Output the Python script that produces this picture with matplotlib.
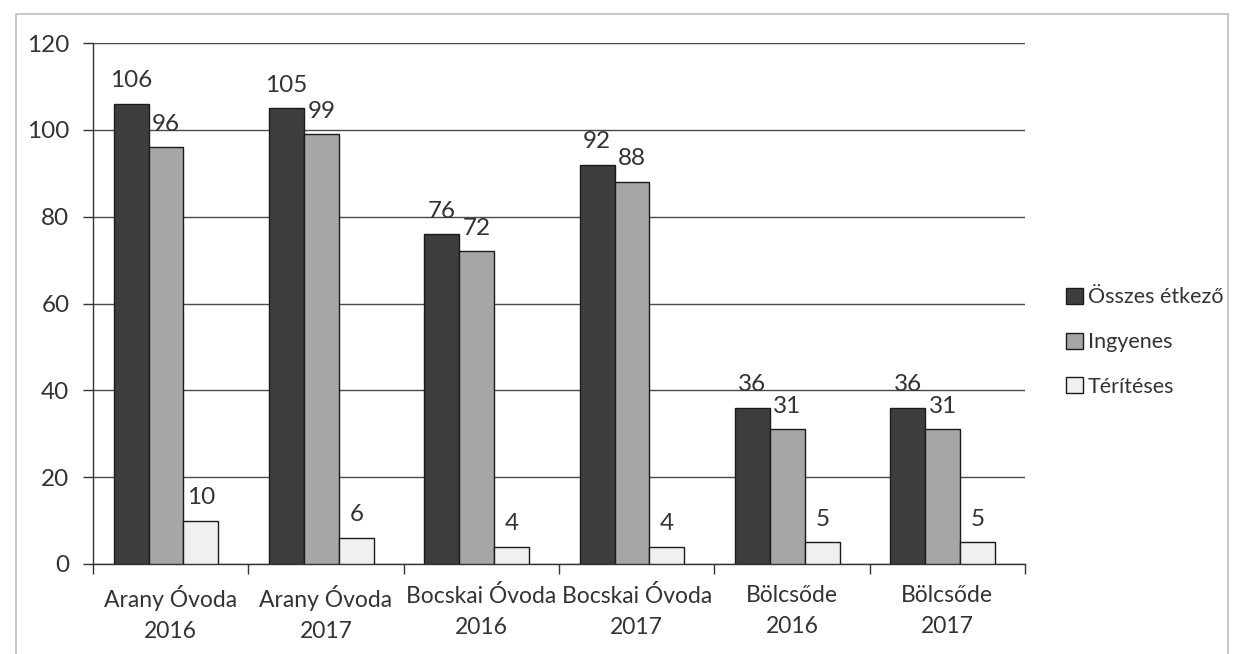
import matplotlib
matplotlib.use("Agg")
import matplotlib.pyplot as plt
import numpy as np
from matplotlib.patches import Rectangle

plt.rcParams['font.family'] = ['Lato', 'DejaVu Sans']

categories = ["Arany Óvoda\n2016", "Arany Óvoda\n2017", "Bocskai Óvoda\n2016",
              "Bocskai Óvoda\n2017", "Bölcsőde\n2016", "Bölcsőde\n2017"]
series_names = ["Összes étkező", "Ingyenes", "Térítéses"]
osszes = [106, 105, 76, 92, 36, 36]
ingyenes = [96, 99, 72, 88, 31, 31]
teriteses = [10, 6, 4, 4, 5, 5]
y_ticks = [0, 20, 40, 60, 80, 100, 120]

colors = ["#3d3d3d", "#a6a6a6", "#f0f0f0"]
text_color = "#333333"

fig = plt.figure(figsize=(12.42, 6.54), dpi=100)
W, H = 1242, 654
ax = fig.add_axes([93 / W, 1 - 564 / H, (1025 - 93) / W, (564 - 43) / H])

# outer frame of the chart area
fig.patches.append(Rectangle((16 / W, -0.05), (1228 - 16) / W, 1 - 14 / H + 0.05,
                             transform=fig.transFigure, fill=False,
                             edgecolor="#bdbdbd", linewidth=1.2))

x = np.arange(len(categories))
bw = 0.225
offsets = [-bw, 0, bw]
all_series = [osszes, ingyenes, teriteses]
for vals, off, col, name in zip(all_series, offsets, colors, series_names):
    bars = ax.bar(x + off - 0.03, vals, width=bw, color=col, edgecolor="#1a1a1a",
                  linewidth=1.0, label=name, zorder=3)
    for b, v in zip(bars, vals):
        ax.annotate(str(v), (b.get_x() + b.get_width() / 2, v),
                    xytext=(0, 9), textcoords="offset points",
                    ha="center", va="bottom", fontsize=17.5, color=text_color)

ax.set_xlim(-0.5, len(categories) - 0.5)
ax.set_ylim(0, 120)
ax.set_yticks(y_ticks)
ax.yaxis.grid(True, color="#4a4a4a", linewidth=1.0, zorder=0)
ax.set_axisbelow(True)

ax.set_xticks(x)
ax.set_xticklabels(categories, fontsize=16.5, color=text_color, linespacing=1.6)
ax.tick_params(axis="x", length=0, pad=15)
ax.set_xticks(np.arange(-0.5, len(categories), 1.0), minor=True)
ax.tick_params(axis="x", which="minor", length=7, color="#333333", width=1)
ax.tick_params(axis="y", length=7, color="#333333", width=1, labelsize=17.5,
               labelcolor=text_color, pad=10)

for s in ["top", "right"]:
    ax.spines[s].set_visible(False)
for s in ["left", "bottom"]:
    ax.spines[s].set_color("#333333")
    ax.spines[s].set_linewidth(1.0)

leg = fig.legend(loc="upper left", bbox_to_anchor=(1047 / W, 1 - 268 / H),
                 frameon=False, fontsize=15.5, handlelength=0.75, handleheight=0.75,
                 handletextpad=0.25, labelspacing=1.15, labelcolor=text_color)

fig.savefig("out.png", dpi=100, facecolor="white")
